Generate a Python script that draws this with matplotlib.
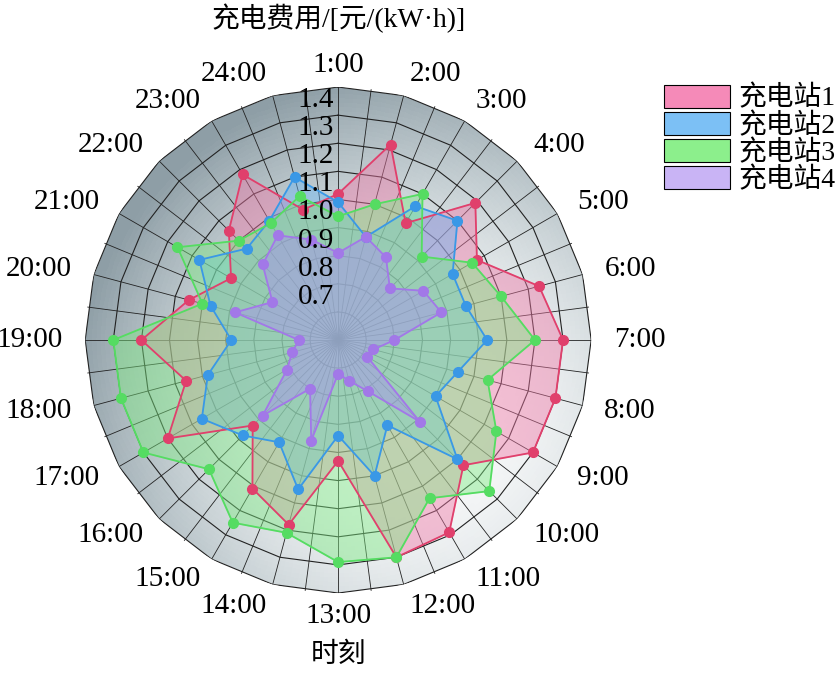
import numpy as np
import matplotlib.pyplot as plt
from matplotlib.patches import Patch, Polygon
from matplotlib.colors import LinearSegmentedColormap

plt.rcParams['font.family'] = ['Liberation Serif', 'Noto Sans CJK SC']

hours = [f"{h}:00" for h in range(1, 25)]
station1 = [1.02, 1.22, 0.98, 1.19, 1.07, 1.24, 1.30, 1.30, 1.30, 1.13, 1.29, 1.30,
            0.93, 1.18, 1.11, 0.93, 1.20, 1.06, 1.20, 1.05, 0.94, 1.05, 1.18, 0.98]
station2 = [0.99, 0.88, 1.05, 1.10, 0.97, 0.97, 1.03, 0.94, 0.90, 1.10, 0.85, 1.00,
            0.84, 1.05, 0.92, 0.98, 1.06, 0.98, 0.88, 0.97, 1.07, 0.96, 0.99, 1.10]
station3 = [0.94, 1.00, 1.10, 0.92, 1.05, 1.10, 1.20, 1.05, 1.15, 1.26, 1.15, 1.30,
            1.29, 1.21, 1.25, 1.15, 1.30, 1.30, 1.30, 1.00, 1.16, 1.00, 0.98, 1.03]
station4 = [0.81, 0.88, 0.84, 0.76, 0.85, 0.88, 0.70, 0.63, 0.62, 0.91, 0.71, 0.65,
            0.62, 0.87, 0.70, 0.88, 0.71, 0.67, 0.64, 0.88, 0.77, 0.88, 0.93, 0.87]
names = ["充电站1", "充电站2", "充电站3", "充电站4"]
r_ticks = [0.7, 0.8, 0.9, 1.0, 1.1, 1.2, 1.3, 1.4]
line_colors = ["#e0406c", "#3a98e6", "#55dc62", "#a278e8"]
fill_colors = ["#f07aa8", "#6ab6f2", "#7eea84", "#a890f0"]
legend_colors = ["#f58ab8", "#7cc0f5", "#8cef8c", "#c9b4f5"]

rmin, rmax = 0.5, 1.4
n = len(hours)
theta = np.deg2rad(np.arange(n) * 360 / n)

fig = plt.figure(figsize=(8.35, 6.74), dpi=100)
ax = fig.add_axes([0.102, 0.12, 0.606, 0.751], projection='polar')
ax.set_theta_zero_location('N')
ax.set_theta_direction(-1)
ax.set_ylim(rmin, rmax)
ax.set_axis_off()

# gradient background clipped to the outer polygon
bg = LinearSegmentedColormap.from_list('bg', ['#8e9ea6', '#c4ced2', '#ffffff'])
tt = np.linspace(0, 2 * np.pi, 361)
rr = np.linspace(rmin, rmax * 1.01, 60)
T, R = np.meshgrid(tt, rr)
X = (R - rmin) * np.sin(T) / (rmax - rmin)
Y = (R - rmin) * np.cos(T) / (rmax - rmin)
light = 0.45 * (X - Y) + 0.7 * (1 - ((R - rmin) / (rmax - rmin)) ** 2)
mesh = ax.pcolormesh(T, R, light, cmap=bg, vmin=-0.5, vmax=0.9,
                     shading='auto', zorder=0)
outer = np.append(theta, theta[0])
poly = Polygon(np.column_stack([outer, np.full(n + 1, rmax)]), closed=True,
               transform=ax.transData, facecolor='none', edgecolor='none')
ax.add_patch(poly)
mesh.set_clip_path(poly)

# polygon grid
for r in np.arange(0.6, rmax + 0.01, 0.1):
    ax.plot(outer, np.full(n + 1, r), color='#222222', lw=0.8, zorder=1)
for a in np.deg2rad(np.arange(0, 360, 7.5)):
    ax.plot([a, a], [rmin, rmax], color='#222222', lw=0.6, zorder=1)

for vals, lc, fc in zip([station1, station2, station3, station4], line_colors, fill_colors):
    v = np.append(vals, vals[0])
    ax.fill(outer, v, color=fc, alpha=0.45, zorder=2)
    ax.plot(outer, v, color=lc, lw=1.3, zorder=3)
    ax.plot(theta, vals, 'o', color=lc, ms=7, mec=lc, zorder=4)

for r in r_ticks:
    ax.annotate(f"{r:.1f}", xy=(0, r), xytext=(-4, -13), textcoords='offset pixels',
                ha='right', va='center', fontsize=21, zorder=5)

for a, lab in zip(theta, hours):
    deg = np.rad2deg(a)
    if deg < 5 or deg > 355 or abs(deg - 180) < 5:
        ha = 'center'
    elif deg < 180:
        ha = 'left'
    else:
        ha = 'right'
    ax.text(a, rmax + 0.08, lab, ha=ha, va='center', fontsize=21, clip_on=False)

fig.text(0.405, 0.972, "充电费用/[元/(kW·h)]", ha='center', va='center', fontsize=20)
fig.text(0.405, 0.028, "时刻", ha='center', va='center', fontsize=20)

handles = [Patch(facecolor=c, edgecolor='black', lw=0.8) for c in legend_colors]
fig.legend(handles, names, loc='upper left', bbox_to_anchor=(0.778, 0.895),
           frameon=False, fontsize=20, handlelength=2.4, handleheight=0.9,
           labelspacing=0.0, handletextpad=0.3, borderpad=0)

fig.savefig("out.png", dpi=100)
